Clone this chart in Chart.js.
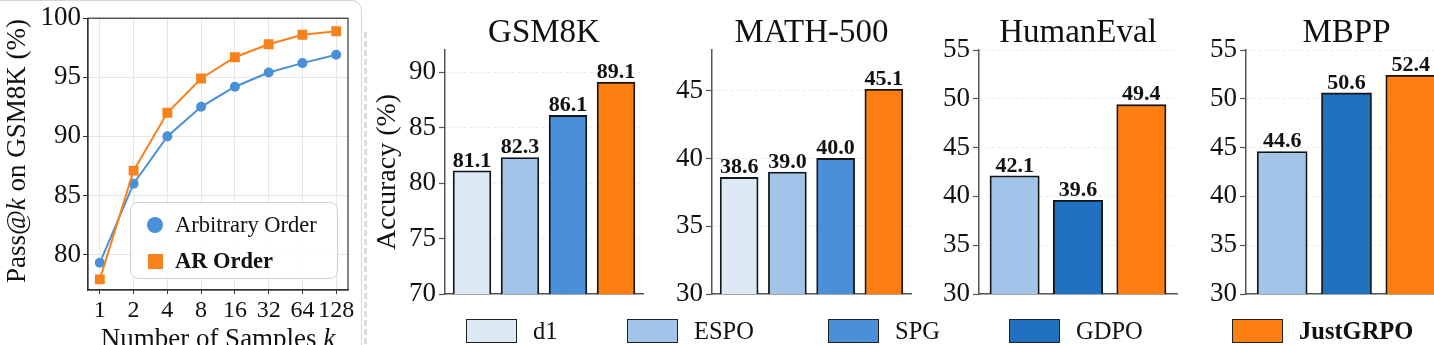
<!DOCTYPE html>
<html>
<head>
<meta charset="utf-8">
<script src="https://cdn.jsdelivr.net/npm/chart.js@4.4.1/dist/chart.umd.min.js"></script>
<style>
html,body{margin:0;padding:0;background:#fff;width:1434px;height:345px;overflow:hidden;position:relative;font-family:"Liberation Serif","Times New Roman",serif;color:#111;}
canvas{position:absolute;top:0;}
.frame{position:absolute;left:-20px;top:0;width:382px;height:420px;border:1.5px solid #d4d4d4;border-radius:10px;box-sizing:border-box;}
.sep{position:absolute;left:364px;top:32px;width:0;height:330px;border-left:3px dashed #dcdcdc;}
.lg{position:absolute;left:130px;top:202px;width:208px;height:77px;border:1.5px solid #cfcfcf;border-radius:8px;background:rgba(255,255,255,0.85);box-sizing:border-box;}
.lgi{position:absolute;left:175px;font-size:22.5px;line-height:22px;white-space:nowrap;}
.mk{position:absolute;}
.bl{position:absolute;top:319px;width:51px;height:24px;border:1.8px solid #222;box-sizing:border-box;}
.bt{position:absolute;top:319px;height:24px;line-height:24px;font-size:24.5px;white-space:nowrap;}
</style>
</head>
<body>
<div class="frame"></div>
<div class="sep"></div>
<canvas id="c0"></canvas>
<canvas id="c1"></canvas>
<canvas id="c2"></canvas>
<canvas id="c3"></canvas>
<canvas id="c4"></canvas>
<div id="legends"></div>
<script>
// ---------------- data ----------------
const kLabels = ['1', '2', '4', '8', '16', '32', '64', '128'];
const arbitraryOrder = [79.3, 86.0, 90.0, 92.5, 94.2, 95.4, 96.2, 96.9];
const arOrder = [77.9, 87.1, 92.0, 94.9, 96.7, 97.8, 98.6, 98.9];

const methods = ['d1', 'ESPO', 'SPG', 'GDPO', 'JustGRPO'];
const benchmarks = ['GSM8K', 'MATH-500', 'HumanEval', 'MBPP'];

const gsm8kMethods = ['d1', 'ESPO', 'SPG', 'JustGRPO'];
const gsm8kValues = [81.1, 82.3, 86.1, 89.1];
const math500Methods = ['d1', 'ESPO', 'SPG', 'JustGRPO'];
const math500Values = [38.6, 39.0, 40.0, 45.1];
const humanevalMethods = ['ESPO', 'GDPO', 'JustGRPO'];
const humanevalValues = [42.1, 39.6, 49.4];
const mbppMethods = ['ESPO', 'GDPO', 'JustGRPO'];
const mbppValues = [44.6, 50.6, 52.4];

// ---------------- styles ----------------
const FONT = '"Liberation Serif", "Times New Roman", serif';
const methodColors = {d1: '#dde9f5', ESPO: '#a2c4e8', SPG: '#4a8fd7', GDPO: '#2171c1', JustGRPO: '#fd7f12'};
const blue = '#4a90d9', orange = '#f7821b';

function drawRich(ctx, parts, x, y, size, rotate) {
  ctx.save();
  ctx.translate(x, y);
  if (rotate) ctx.rotate(-Math.PI / 2);
  const fonts = parts.map(p => `${p.i ? 'italic ' : ''}${p.b ? 'bold ' : ''}${size}px ${FONT}`);
  let total = 0;
  parts.forEach((p, k) => { ctx.font = fonts[k]; total += ctx.measureText(p.t).width; });
  let cx = -total / 2;
  ctx.textBaseline = 'middle';
  ctx.textAlign = 'left';
  ctx.fillStyle = '#111';
  parts.forEach((p, k) => { ctx.font = fonts[k]; ctx.fillText(p.t, cx, 0); cx += ctx.measureText(p.t).width; });
  ctx.restore();
}

const textPlugin = {
  id: 'texts',
  afterDraw(chart, args, opts) {
    const ctx = chart.ctx;
    (opts.items || []).forEach(it => {
      const x = it.x === 'center' ? (chart.chartArea.left + chart.chartArea.right) / 2 : it.x;
      drawRich(ctx, it.parts, x, it.y, it.size, it.rotate);
    });
    if (opts.frame) {
      const a = chart.chartArea;
      ctx.save();
      ctx.strokeStyle = '#333';
      ctx.lineWidth = 1.2;
      ctx.strokeRect(a.left, a.top, a.right - a.left, a.bottom - a.top);
      ctx.restore();
    }
  }
};

const valuePlugin = {
  id: 'values',
  afterDatasetsDraw(chart, args, opts) {
    if (!opts.show) return;
    const ctx = chart.ctx;
    const meta = chart.getDatasetMeta(0);
    const ds = chart.data.datasets[0];
    ctx.save();
    ctx.font = `bold 22px ${FONT}`;
    ctx.fillStyle = '#111';
    ctx.textAlign = 'center';
    ctx.textBaseline = 'bottom';
    meta.data.forEach((bar, k) => {
      ctx.fillText(ds.data[k].y.toFixed(1), bar.x, bar.y + 1);
    });
    ctx.restore();
  }
};

function setupCanvas(id, left, width) {
  const c = document.getElementById(id);
  c.width = width; c.height = 345;
  c.style.left = left + 'px';
  c.style.width = width + 'px';
  c.style.height = '345px';
  return c;
}

// ---------------- left line chart ----------------
setupCanvas('c0', 0, 362);
new Chart(document.getElementById('c0'), {
  type: 'line',
  data: {
    datasets: [
      {
        label: 'AR Order',
        data: arOrder.map((v, i) => ({x: i, y: v})),
        borderColor: orange, backgroundColor: orange,
        pointStyle: 'rect', pointRadius: 7, pointBorderWidth: 0,
        borderWidth: 2, tension: 0
      },
      {
        label: 'Arbitrary Order',
        data: arbitraryOrder.map((v, i) => ({x: i, y: v})),
        borderColor: blue, backgroundColor: blue,
        pointStyle: 'circle', pointRadius: 5, pointBorderWidth: 0,
        borderWidth: 2, tension: 0
      }
    ]
  },
  options: {
    responsive: false, animation: false, devicePixelRatio: 1,
    layout: {padding: {left: 0, right: 14, top: 17, bottom: 0}},
    plugins: {
      legend: {display: false}, tooltip: {enabled: false},
      texts: {
        frame: true,
        items: [
          {parts: [{t: 'Pass@'}, {t: 'k', i: true}, {t: ' on GSM8K (%)'}], x: 18, y: 151, size: 27, rotate: true},
          {parts: [{t: 'Number of Samples '}, {t: 'k', i: true}], x: 'center', y: 340, size: 27}
        ]
      }
    },
    scales: {
      x: {
        type: 'linear', min: -0.35, max: 7.35,
        afterFit: s => { s.height = 55; s.paddingLeft = 0; s.paddingRight = 0; },
        ticks: {
          stepSize: 1, includeBounds: false, autoSkip: false, maxRotation: 0,
          font: {family: FONT, size: 24}, color: '#111', padding: 2,
          callback: v => (Number.isInteger(v) && kLabels[v] !== undefined) ? kLabels[v] : ''
        },
        grid: {color: '#e6e6e6', lineWidth: 1, tickColor: '#333', tickLength: 4, tickWidth: 1},
        border: {display: true, color: '#333', width: 1.2}
      },
      y: {
        min: 77, max: 100,
        afterFit: s => { s.width = 88; },
        ticks: {stepSize: 5, includeBounds: false, font: {family: FONT, size: 27}, color: '#111', padding: 2},
        grid: {color: '#e6e6e6', lineWidth: 1, tickColor: '#333', tickLength: 5, tickWidth: 1},
        border: {display: true, color: '#333', width: 1.2}
      }
    }
  },
  plugins: [textPlugin]
});

// ---------------- bar panels ----------------
const panels = [
  {id: 'c1', left: 370, width: 279, axisX: 445, rightX: 643, title: benchmarks[0], names: gsm8kMethods, values: gsm8kValues, min: 70, max: 92, ytitle: true},
  {id: 'c2', left: 650, width: 268, axisX: 712, rightX: 911, title: benchmarks[1], names: math500Methods, values: math500Values, min: 30, max: 48},
  {id: 'c3', left: 920, width: 264, axisX: 979, rightX: 1177, title: benchmarks[2], names: humanevalMethods, values: humanevalValues, min: 30, max: 55},
  {id: 'c4', left: 1185, width: 268, axisX: 1246, rightX: 1447, title: benchmarks[3], names: mbppMethods, values: mbppValues, min: 30, max: 55}
];

panels.forEach(p => {
  const c = setupCanvas(p.id, p.left, p.width);
  const n = p.values.length;
  const unitPx = (p.rightX - p.axisX) / (n - 1 + 1.125);
  const items = [{parts: [{t: p.title}], x: 'center', y: 33, size: 33}];
  if (p.ytitle) items.push({parts: [{t: 'Accuracy (%)'}], x: 18, y: 172, size: 28, rotate: true});
  new Chart(c, {
    type: 'bar',
    data: {
      datasets: [{
        data: p.values.map((v, i) => ({x: i, y: v})),
        backgroundColor: p.names.map(m => methodColors[m]),
        borderColor: '#151515', borderWidth: 1.8, borderSkipped: false,
        barThickness: unitPx * 0.75 + 1.8
      }]
    },
    options: {
      responsive: false, animation: false, devicePixelRatio: 1,
      layout: {padding: {left: 0, right: p.left + p.width - p.rightX, top: 50, bottom: 51}},
      plugins: {
        legend: {display: false}, tooltip: {enabled: false},
        texts: {items},
        values: {show: true}
      },
      scales: {
        x: {
          type: 'linear', min: -0.5625, max: n - 1 + 0.5625, offset: false,
          afterFit: s => { s.height = 0; s.paddingLeft = 0; s.paddingRight = 0; },
          ticks: {display: false, stepSize: 1, includeBounds: false},
          grid: {display: false, offset: false},
          border: {display: true, color: '#555', width: 1.5}
        },
        y: {
          min: p.min, max: p.max,
          afterFit: s => { s.width = p.axisX - p.left; },
          ticks: {stepSize: 5, includeBounds: false, font: {family: FONT, size: 27}, color: '#111', padding: 3},
          grid: {color: '#e4e4e4', lineWidth: 0.8, tickColor: '#555', tickLength: 6, tickWidth: 1.2},
          border: {display: true, color: '#555', width: 1.5, dash: [3, 3]}
        }
      }
    },
    plugins: [textPlugin, valuePlugin]
  });
});

// ---------------- legends (HTML) ----------------
const lg = document.getElementById('legends');
let html = '<div class="lg"></div>';
html += `<div class="mk" style="left:147px;top:217px;width:16px;height:16px;border-radius:50%;background:${blue}"></div>`;
html += `<div class="lgi" style="top:214px">Arbitrary Order</div>`;
html += `<div class="mk" style="left:148px;top:254px;width:15px;height:15px;background:${orange}"></div>`;
html += `<div class="lgi" style="top:250px;font-weight:bold">AR Order</div>`;
const legendLeft = {d1: 466, ESPO: 627, SPG: 828, GDPO: 1009, JustGRPO: 1232};
methods.forEach(m => {
  const x = legendLeft[m];
  html += `<div class="bl" style="left:${x}px;background:${methodColors[m]}"></div>`;
  html += `<div class="bt" style="left:${x + 67}px;${m === 'JustGRPO' ? 'font-weight:bold;' : ''}">${m}</div>`;
});
lg.innerHTML = html;
</script>
</body>
</html>
